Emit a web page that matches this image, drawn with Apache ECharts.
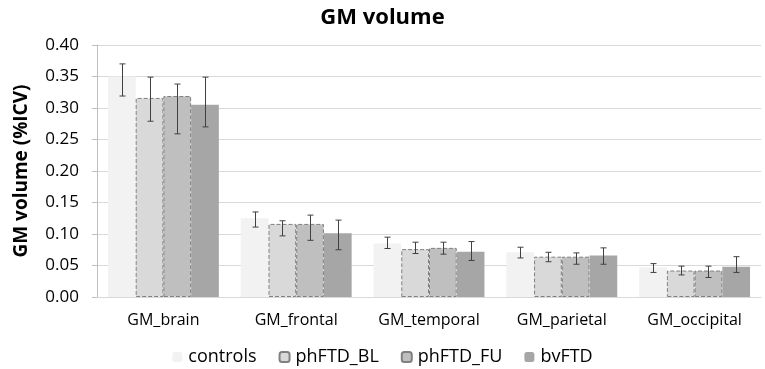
<!DOCTYPE html>
<html>
<head>
<meta charset="utf-8">
<script src="https://cdn.jsdelivr.net/npm/echarts@6/dist/echarts.min.js"></script>
<style>
  html, body { margin: 0; padding: 0; background: #fff; }
  #chart { width: 765px; height: 369px; }
</style>
</head>
<body>
<div id="chart"></div>
<script>
var categories = ['GM_brain', 'GM_frontal', 'GM_temporal', 'GM_parietal', 'GM_occipital'];
var yTicks = [0, 0.05, 0.10, 0.15, 0.20, 0.25, 0.30, 0.35, 0.40];

var controls     = [0.350, 0.125, 0.085, 0.071, 0.047];
var controlsLow  = [0.319, 0.111, 0.077, 0.062, 0.039];
var controlsHigh = [0.370, 0.135, 0.095, 0.079, 0.053];

var phBL     = [0.316, 0.116, 0.076, 0.064, 0.042];
var phBLLow  = [0.279, 0.097, 0.069, 0.056, 0.035];
var phBLHigh = [0.349, 0.121, 0.087, 0.071, 0.049];

var phFU     = [0.319, 0.116, 0.078, 0.064, 0.042];
var phFULow  = [0.259, 0.090, 0.068, 0.052, 0.031];
var phFUHigh = [0.338, 0.130, 0.087, 0.070, 0.049];

var bvFTD     = [0.305, 0.101, 0.072, 0.066, 0.048];
var bvFTDLow  = [0.270, 0.075, 0.058, 0.052, 0.039];
var bvFTDHigh = [0.349, 0.122, 0.088, 0.078, 0.064];

var names = ['controls', 'phFTD_BL', 'phFTD_FU', 'bvFTD'];
var values = [controls, phBL, phFU, bvFTD];
var lows = [controlsLow, phBLLow, phFULow, bvFTDLow];
var highs = [controlsHigh, phBLHigh, phFUHigh, bvFTDHigh];
var colors = ['#f2f2f2', '#d9d9d9', '#bfbfbf', '#a6a6a6'];
var dashed = [false, true, true, false];

var gapPct = 0.165;

function errorSeries(s) {
    var data = categories.map(function (c, i) { return [i, lows[s][i], highs[s][i]]; });
    return {
        type: 'custom',
        name: 'err' + s,
        z: 10,
        silent: true,
        data: data,
        encode: { x: 0, y: [1, 2] },
        renderItem: function (params, api) {
            var idx = api.value(0);
            var catW = api.size([1, 0])[0];
            var barW = catW * (1 - gapPct) / 4;
            var lo = api.coord([idx, api.value(1)]);
            var hi = api.coord([idx, api.value(2)]);
            var x = Math.round(lo[0] + (s - 1.5) * barW) + 0.5;
            var cap = 3;
            var st = { stroke: '#404040', lineWidth: 1 };
            return {
                type: 'group',
                children: [
                    { type: 'line', shape: { x1: x, y1: lo[1], x2: x, y2: hi[1] }, style: st },
                    { type: 'line', shape: { x1: x - cap, y1: lo[1], x2: x + cap, y2: lo[1] }, style: st },
                    { type: 'line', shape: { x1: x - cap, y1: hi[1], x2: x + cap, y2: hi[1] }, style: st }
                ]
            };
        }
    };
}

var series = [];
names.forEach(function (n, s) {
    series.push({
        type: 'bar',
        name: n,
        data: values[s],
        barGap: '0%',
        barCategoryGap: (gapPct * 100) + '%',
        itemStyle: {
            color: colors[s],
            borderColor: dashed[s] ? '#808080' : colors[s],
            borderWidth: dashed[s] ? 1 : 0,
            borderType: 'dashed'
        },
        emphasis: { disabled: true }
    });
});
names.forEach(function (n, s) { series.push(errorSeries(s)); });

var chart = echarts.init(document.getElementById('chart'));
var option = {
    animation: false,
    textStyle: { fontFamily: 'Open Sans' },
    title: {
        text: 'GM volume',
        left: 'center',
        top: 2,
        textStyle: { fontSize: 22, fontWeight: 'bold', color: '#000', fontFamily: 'Open Sans' }
    },
    legend: {
        data: names,
        top: 343,
        left: 'center',
        itemWidth: 10,
        itemHeight: 10,
        itemGap: 22,
        textStyle: { fontSize: 18, color: '#000', padding: [0, 0, 0, 1] }
    },
    grid: { left: 97, right: 4, top: 45, bottom: 72 },
    xAxis: {
        type: 'category',
        data: categories,
        axisLine: { lineStyle: { color: '#d9d9d9' } },
        axisTick: { show: false },
        axisLabel: { fontSize: 16, color: '#000', margin: 15, interval: 0 }
    },
    yAxis: {
        type: 'value',
        min: 0,
        max: 0.40,
        interval: 0.05,
        name: 'GM volume (%ICV)',
        nameLocation: 'middle',
        nameRotate: 90,
        nameGap: 66,
        nameTextStyle: { fontSize: 19, fontWeight: 'bold', color: '#000' },
        axisLine: { show: true, lineStyle: { color: '#bfbfbf' } },
        axisTick: { show: true, length: 5, lineStyle: { color: '#bfbfbf' } },
        axisLabel: {
            fontSize: 17,
            color: '#000',
            margin: 18,
            formatter: function (v) { return v.toFixed(2); }
        },
        splitLine: { lineStyle: { color: '#d9d9d9' } }
    },
    series: series
};
chart.setOption(option);
window.onresize = chart.resize;
</script>
</body>
</html>
